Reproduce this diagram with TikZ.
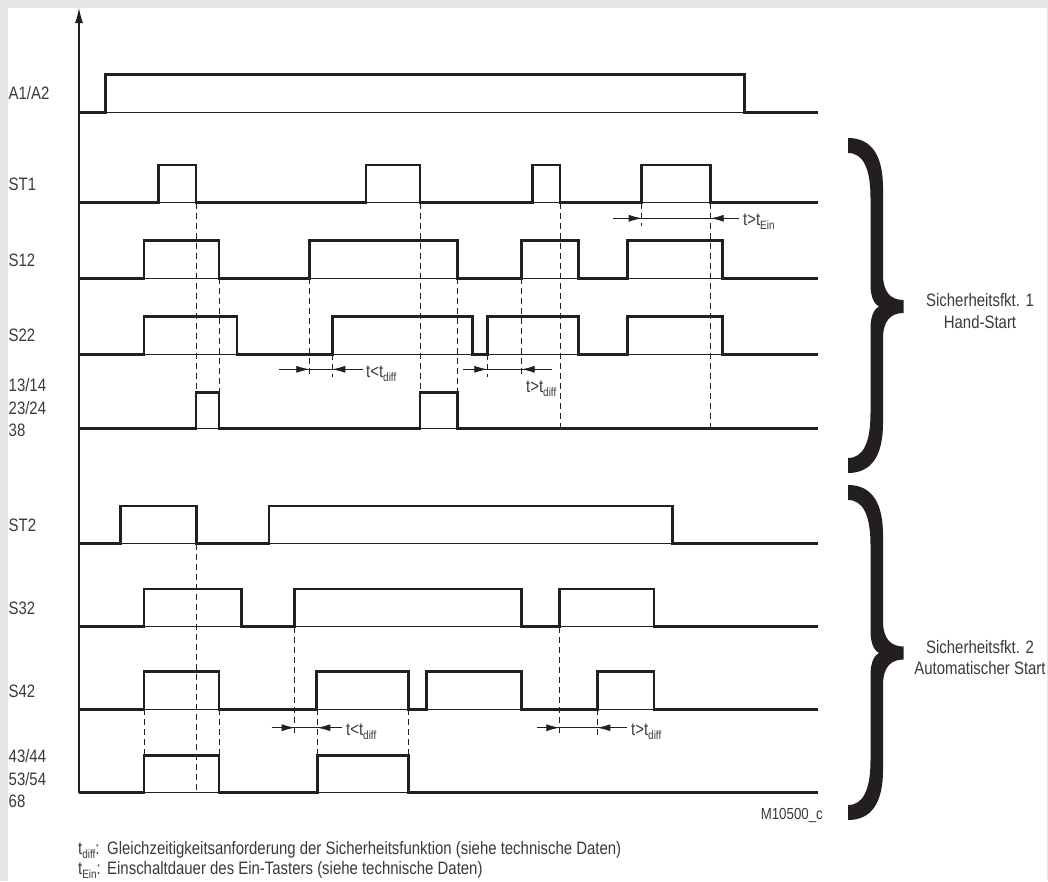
\documentclass[tikz,border=0pt]{standalone}
\usepackage{fontspec}
\setmainfont[FakeStretch=0.83]{Liberation Sans}
\usetikzlibrary{arrows.meta}
\definecolor{ink}{HTML}{231F20}
\definecolor{txt}{HTML}{3A3A3A}
\definecolor{frame}{HTML}{E6E7E8}
\newcommand\tsub[1]{\raisebox{-4.5pt}{\fontsize{12}{12}\selectfont #1}}
\tikzset{
  sig/.style={ink, line width=2.6pt, line join=miter},
  base/.style={ink, line width=0.8pt},
  guide/.style={ink, line width=0.9pt, dash pattern=on 6pt off 4pt},
  dim/.style={ink, line width=0.8pt},
  dimtip/.style={ink, line width=0.8pt, -{Latex[length=13pt,width=7pt]}},
  lbl/.style={txt, font=\fontsize{18}{22.5}\selectfont, inner sep=0pt, anchor=west, align=left},
  note/.style={txt, font=\fontsize{18}{21.5}\selectfont, inner sep=0pt},
}
\begin{document}
\begin{tikzpicture}[x=1pt,y=-1pt]
\useasboundingbox (0,0) rectangle (1048,881);
\fill[frame] (0,0) rectangle (1048,881);
\fill[white] (7.5,7.5) rectangle (1046.5,881);
% zero lines
\draw[base] (79,112.3)--(818,112.3);
\draw[base] (79,202.7)--(818,202.7);
\draw[base] (79,278.3)--(818,278.3);
\draw[base] (79,354.3)--(818,354.3);
\draw[base] (79,428.5)--(818,428.5);
\draw[base] (79,543.5)--(818,543.5);
\draw[base] (79,626.5)--(818,626.5);
\draw[base] (79,709.3)--(818,709.3);
\draw[base] (79,792.5)--(818,792.5);
% dashed guides, upper part
\draw[guide] (196,202.7)--(196,392.3);
\draw[guide] (219,278.3)--(219,392.3);
\draw[guide] (309.3,278.3)--(309.3,377);
\draw[guide] (332.3,354.3)--(332.3,377);
\draw[guide] (420,202.7)--(420,392.3);
\draw[guide] (457.3,278.3)--(457.3,392.3);
\draw[guide] (487.3,354.3)--(487.3,377);
\draw[guide] (521.7,278.3)--(521.7,377);
\draw[guide] (560,202.7)--(560,428.5);
\draw[guide] (641.7,202.7)--(641.7,226);
\draw[guide] (710.7,202.7)--(710.7,428.5);
% dashed guides, lower part
\draw[guide] (196.7,543.5)--(196.7,792.5);
\draw[guide] (144,709.3)--(144,755.5);
\draw[guide] (219,709.3)--(219,755.5);
\draw[guide] (294.7,626.5)--(294.7,736);
\draw[guide] (317.3,709.3)--(317.3,755.5);
\draw[guide] (408.3,709.3)--(408.3,755.5);
\draw[guide] (559.3,626.5)--(559.3,736);
\draw[guide] (597.3,709.3)--(597.3,736);
% signals
\draw[sig] (79,112.3)--(105.7,112.3)--(105.7,74.5)--(744.3,74.5)--(744.3,112.3)--(818,112.3);
\draw[sig] (79,202.7)--(158.7,202.7)--(158.7,165)--(196,165)--(196,202.7)
  --(366,202.7)--(366,165)--(420,165)--(420,202.7)
  --(532.7,202.7)--(532.7,165)--(560,165)--(560,202.7)
  --(641.7,202.7)--(641.7,165)--(710.7,165)--(710.7,202.7)--(818,202.7);
\draw[sig] (79,278.3)--(144,278.3)--(144,240.7)--(219,240.7)--(219,278.3)
  --(309.3,278.3)--(309.3,240.7)--(457.3,240.7)--(457.3,278.3)
  --(521.7,278.3)--(521.7,240.7)--(578.3,240.7)--(578.3,278.3)
  --(627.3,278.3)--(627.3,240.7)--(722.3,240.7)--(722.3,278.3)--(818,278.3);
\draw[sig] (79,354.3)--(144,354.3)--(144,316.7)--(237,316.7)--(237,354.3)
  --(332.3,354.3)--(332.3,316.7)--(472.3,316.7)--(472.3,354.3)
  --(487.3,354.3)--(487.3,316.7)--(578.3,316.7)--(578.3,354.3)
  --(627.3,354.3)--(627.3,316.7)--(722.3,316.7)--(722.3,354.3)--(818,354.3);
\draw[sig] (79,428.5)--(196,428.5)--(196,392.3)--(219,392.3)--(219,428.5)
  --(420,428.5)--(420,392.3)--(457.3,392.3)--(457.3,428.5)--(818,428.5);
\draw[sig] (79,543.5)--(120.7,543.5)--(120.7,506)--(196.7,506)--(196.7,543.5)
  --(269,543.5)--(269,506)--(672.7,506)--(672.7,543.5)--(818,543.5);
\draw[sig] (79,626.5)--(144,626.5)--(144,589)--(241.7,589)--(241.7,626.5)
  --(294.7,626.5)--(294.7,589)--(521.7,589)--(521.7,626.5)
  --(559.3,626.5)--(559.3,589)--(654,589)--(654,626.5)--(818,626.5);
\draw[sig] (79,709.3)--(144,709.3)--(144,671.7)--(219,671.7)--(219,709.3)
  --(316.7,709.3)--(316.7,671.7)--(408.3,671.7)--(408.3,709.3)
  --(426.7,709.3)--(426.7,671.7)--(521.7,671.7)--(521.7,709.3)
  --(597.3,709.3)--(597.3,671.7)--(654,671.7)--(654,709.3)--(818,709.3);
\draw[sig] (79,792.5)--(144,792.5)--(144,755.5)--(219,755.5)--(219,792.5)
  --(317.3,792.5)--(317.3,755.5)--(408.3,755.5)--(408.3,792.5)--(818,792.5);
% time axis
\draw[ink, line width=1.2pt, -{Latex[length=15pt,width=8pt]}] (79,792.5)--(79,8);
% time spans
\draw[dim] (613,218.3)--(739,218.3);
\draw[dimtip] (613,218.3)--(641.7,218.3);
\draw[dimtip] (739,218.3)--(710.7,218.3);
\draw[dim] (279,369.3)--(363,369.3);
\draw[dimtip] (279,369.3)--(309.3,369.3);
\draw[dimtip] (363,369.3)--(332.3,369.3);
\draw[dim] (463,369.3)--(551.7,369.3);
\draw[dimtip] (463,369.3)--(487.3,369.3);
\draw[dimtip] (551.7,369.3)--(521.7,369.3);
\draw[dim] (271.7,727.7)--(341.7,727.7);
\draw[dimtip] (271.7,727.7)--(294.7,727.7);
\draw[dimtip] (341.7,727.7)--(317.3,727.7);
\draw[dim] (537.3,727.7)--(626.7,727.7);
\draw[dimtip] (537.3,727.7)--(559.3,727.7);
\draw[dimtip] (626.7,727.7)--(597.3,727.7);
\node[note, anchor=base west] (tein) at (743,225) {t>t\tsub{Ein}};
\node[note, anchor=base west] (tdiffa) at (366,377) {t<t\tsub{diff}};
\node[note, anchor=base west] (tdiffb) at (526,392) {t>t\tsub{diff}};
\node[note, anchor=base west] (tdiffc) at (346,735) {t<t\tsub{diff}};
\node[note, anchor=base west] (tdiffd) at (631,735) {t>t\tsub{diff}};
% signal names
\node[lbl] (a1a2) at (8.5,93) {A1/A2};
\node[lbl] (st1) at (8.5,184.5) {ST1};
\node[lbl] (s12) at (8.5,260) {S12};
\node[lbl] (s22) at (8.5,335.5) {S22};
\node[lbl] (k1) at (8.5,408) {13/14\\23/24\\38};
\node[lbl] (st2) at (8.5,525) {ST2};
\node[lbl] (s32) at (8.5,608.5) {S32};
\node[lbl] (s42) at (8.5,691) {S42};
\node[lbl] (k2) at (8.5,779) {43/44\\53/54\\68};
% braces
\foreach \T/\M/\B in {138/306.5/473, 485/653/820}{
  \fill[ink] (848,\T) .. controls (872,\T) and (883,\T+18) .. (883,\T+50)
    -- (883,\M-32) .. controls (883,\M-14) and (891,\M-6.5) .. (903.5,\M-6.5)
    -- (903.5,\M+6.5) .. controls (891,\M+6.5) and (883,\M+14) .. (883,\M+32)
    -- (883,\B-50) .. controls (883,\B-18) and (872,\B) .. (848,\B)
    -- (848,\B-15) .. controls (863,\B-15) and (870.5,\B-30) .. (870.5,\B-60)
    -- (870.5,\M+22) .. controls (870.5,\M+8) and (875,\M+2) .. (879,\M)
    .. controls (875,\M-2) and (870.5,\M-8) .. (870.5,\M-22)
    -- (870.5,\T+60) .. controls (870.5,\T+30) and (863,\T+15) .. (848,\T+15) -- cycle;
}
\node[note, align=center] (sf1) at (980,311) {Sicherheitsfkt. 1\\Hand-Start};
\node[note, align=center] (sf2) at (980,657.5) {Sicherheitsfkt. 2\\Automatischer Start};
\node[txt, font=\fontsize{16}{16}\selectfont, inner sep=0pt, anchor=base east] (ref) at (823,819) {M10500\_c};
% legend
\node[note, anchor=base west] (ldiff) at (78,854) {t\tsub{diff}:};
\node[note, anchor=base west] (ldifftext) at (107,854) {Gleichzeitigkeitsanforderung der Sicherheitsfunktion (siehe technische Daten)};
\node[note, anchor=base west] (lein) at (78,874) {t\tsub{Ein}:};
\node[note, anchor=base west] (leintext) at (107,874) {Einschaltdauer des Ein-Tasters (siehe technische Daten)};
\end{tikzpicture}
\end{document}
